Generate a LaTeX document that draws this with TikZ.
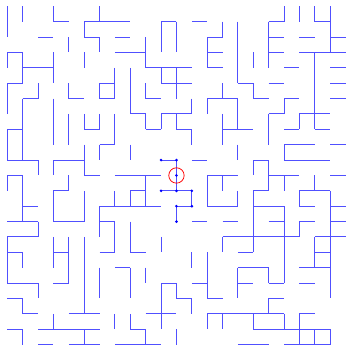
\documentclass[tikz,border=0pt]{standalone}
\definecolor{mazeblue}{RGB}{80,80,255}
\begin{document}
\begin{tikzpicture}[x=1cm,y=-1cm,
  maze/.style={draw=mazeblue, line width=1.8pt, line cap=square},
  pathdot/.style={circle, fill=blue, inner sep=0pt, minimum size=5.5pt},
  ring/.style={circle, draw=red, line width=1.4pt, minimum size=1cm, inner sep=0pt}]
\useasboundingbox (-0.475,-0.41) rectangle (22.09,22.09);
% horizontal open bonds: j / i1 / i2
\foreach \j/\a/\b in {1/3/4,1/5/8,2/5/6,2/2/3,3/0/1,4/1/3,5/6/7,6/6/7,5/0/1,6/1/2,6/4/5,8/5/6,
  2/7/8,1/10/11,1/12/13,2/13/14,3/13/14,4/13/14,3/7/9,4/9/12,5/10/12,6/9/10,6/13/15,
  7/8/9,8/9/10,7/10/12,8/11/12,1/17/18,2/17/18,1/20/21,2/19/20,2/21/22,3/17/18,3/19/22,
  5/15/16,6/16/17,4/18/19,4/21/22,5/17/18,5/21/22,6/18/19,7/17/18,6/21/22,7/19/21,
  8/0/1,10/0/2,9/6/7,10/3/5,11/5/6,11/7/10,11/0/1,13/1/2,14/0/2,12/3/4,14/3/5,13/6/10,14/6/7,
  10/10/11,12/10/12,13/11/12,10/12/13,12/8/9,11/13/15,13/13/15,14/12/13,14/14/15,
  8/14/16,8/18/19,8/20/21,9/18/20,10/18/21,9/21/22,11/21/22,10/16/17,11/17/19,12/16/17,
  13/16/18,14/17/18,12/19/21,13/19/20,14/19/20,14/21/22,13/21/22,
  15/0/2,16/0/1,18/0/2,16/3/4,18/3/4,20/4/6,16/6/7,17/7/8,19/0/1,20/1/2,21/2/6,22/4/6,
  21/0/1,22/2/3,16/8/9,19/13/14,18/12/13,18/10/11,19/11/12,20/9/11,21/8/9,22/7/10,
  20/13/18,15/14/19,15/20/22,16/15/16,16/20/21,17/19/21,17/15/17,18/17/18,18/15/16,
  18/19/20,19/17/18,21/16/19,20/19/20,21/19/21,22/18/21,22/15/17}
  \draw[maze] (\a,\j) -- (\b,\j);
% vertical open bonds: i / j1 / j2
\foreach \i/\a/\b in {0/0/2,1/0/1,3/0/1,6/0/1,5/1/2,6/2/3,4/2/3,0/3/4,1/3/5,3/3/5,5/3/4,
  6/5/6,7/4/6,0/5/7,2/5/6,1/6/10,3/6/9,4/5/6,4/7/9,5/7/8,6/7/8,10/1/3,11/1/3,14/1/2,
  13/2/4,9/2/4,10/4/5,11/4/6,8/4/7,9/5/6,12/6/7,13/6/7,14/5/6,9/7/8,10/7/8,11/7/8,
  12/8/9,7/7/9,14/7/9,18/0/1,17/1/4,19/0/1,20/0/1,21/0/3,20/3/8,15/1/5,16/5/6,16/3/4,15/6/8,
  18/6/7,17/7/9,19/7/8,0/8/10,2/10/11,6/9/10,3/10/11,5/9/11,0/11/12,1/11/14,2/14/15,
  4/11/12,3/12/14,5/12/14,6/13/15,7/12/13,8/9/10,11/10/12,12/12/13,11/13/14,9/11/13,
  8/12/13,13/11/13,14/11/12,8/14/16,7/14/16,15/9/10,18/9/10,16/10/11,17/10/12,18/11/12,
  16/12/16,18/13/18,20/11/12,19/12/13,21/12/19,15/12/13,19/14/15,0/15/18,1/16/17,
  2/18/19,3/15/17,4/15/18,5/15/20,6/17/19,1/19/20,3/20/21,5/21/22,1/21/22,10/15/16,
  14/15/16,8/17/19,9/17/18,12/16/17,13/16/19,10/18/21,11/18/19,12/19/20,7/20/21,
  8/20/21,9/21/22,11/21/22,13/20/21,14/20/21,20/15/17,15/17/19,17/17/18,17/19/20,
  16/20/21,18/20/21,19/20/22,20/21/22,21/21/22}
  \draw[maze] (\i,\a) -- (\i,\b);
% cluster of the origin
\foreach \p/\x/\y in {d1/10/10,d2/11/10,d3/11/11,d4/11/12,d5/10/12,d6/12/12,d7/12/13,d8/11/13,d9/11/14}
  \node[pathdot] (\p) at (\x,\y) {};
\node[ring] (goal) at (11,11) {};
\end{tikzpicture}
\end{document}
